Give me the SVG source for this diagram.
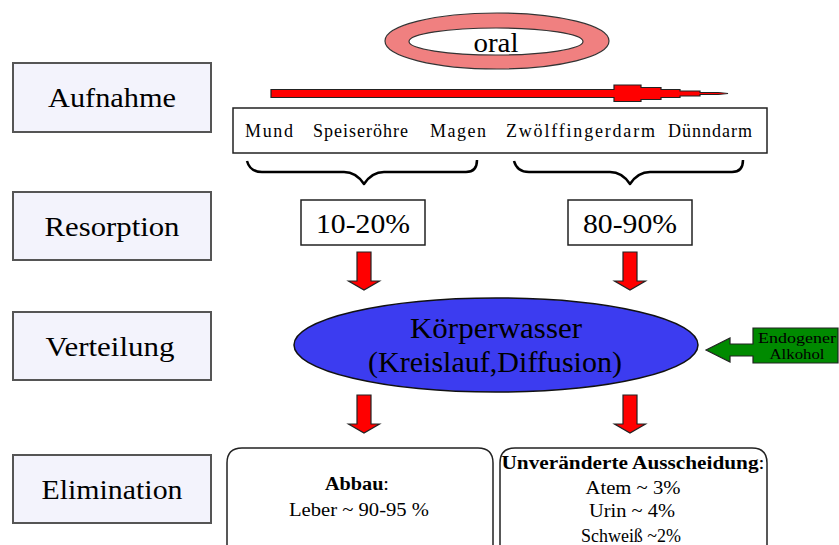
<svg xmlns="http://www.w3.org/2000/svg" width="839" height="545" viewBox="0 0 839 545" font-family="'Liberation Serif', 'DejaVu Serif', serif">
<defs>
<style>
text{font-family:'Liberation Serif','DejaVu Serif',serif;fill:#000}
.lab{font-size:28px;text-anchor:middle}
.stage{fill:#f3f3fc;stroke:#555;stroke-width:2}
.org{font-size:18px;text-anchor:middle}
.pct{font-size:28px;text-anchor:middle}
.box{fill:#fff;stroke:#222;stroke-width:1.5}
.darr{fill:#f00;stroke:#222;stroke-width:1.2}
.brace{fill:none;stroke:#000;stroke-width:2.5;stroke-linejoin:round}
.el{font-size:18px;text-anchor:middle}
</style>
</defs>
<rect width="839" height="545" fill="#fff"/>

<g id="stage-aufnahme"><rect class="stage" x="13" y="63" width="198" height="69"/><text class="lab" x="112" y="107" textLength="128" lengthAdjust="spacingAndGlyphs">Aufnahme</text></g>
<g id="stage-resorption"><rect class="stage" x="13" y="192" width="198" height="68"/><text class="lab" x="112" y="236" textLength="135" lengthAdjust="spacingAndGlyphs">Resorption</text></g>
<g id="stage-verteilung"><rect class="stage" x="13" y="312" width="198" height="68"/><text class="lab" x="110" y="356" textLength="129" lengthAdjust="spacingAndGlyphs">Verteilung</text></g>
<g id="stage-elimination"><rect class="stage" x="13" y="455" width="198" height="68"/><text class="lab" x="112" y="499" textLength="141" lengthAdjust="spacingAndGlyphs">Elimination</text></g>

<g id="oral">
<path d="M385,41 a112,28 0 1,0 224,0 a112,28 0 1,0 -224,0 Z M409,41.5 a87,13.5 0 1,0 174,0 a87,13.5 0 1,0 -174,0 Z" fill="#f08080" fill-rule="evenodd" stroke="#333" stroke-width="1.2"/>
<text x="496" y="52" font-size="28" text-anchor="middle" textLength="45" lengthAdjust="spacingAndGlyphs">oral</text>
</g>

<g id="organs">
<rect class="box" x="233" y="108" width="534" height="45"/>
<text class="org" x="269" y="137" textLength="48" lengthAdjust="spacing">Mund</text>
<text class="org" x="360.5" y="137" textLength="95" lengthAdjust="spacing">Speiseröhre</text>
<text class="org" x="458" y="137" textLength="56" lengthAdjust="spacing">Magen</text>
<text class="org" x="580.5" y="137" textLength="149" lengthAdjust="spacing">Zwölffingerdarm</text>
<text class="org" x="710" y="137" textLength="84" lengthAdjust="spacing">Dünndarm</text>
</g>

<g id="pct-10-20"><rect class="box" x="301" y="200" width="124" height="45"/><text class="pct" x="363" y="233" textLength="94" lengthAdjust="spacingAndGlyphs">10-20%</text></g>
<g id="pct-80-90"><rect class="box" x="568" y="200" width="124" height="45"/><text class="pct" x="630" y="233" textLength="94" lengthAdjust="spacingAndGlyphs">80-90%</text></g>

<g id="koerperwasser">
<ellipse cx="496" cy="345" rx="202" ry="47" fill="#3c3cf0" stroke="#111" stroke-width="1.5"/>
<text x="496" y="338" font-size="29" text-anchor="middle" textLength="172" lengthAdjust="spacingAndGlyphs">Körperwasser</text>
<text x="495" y="372" font-size="29" text-anchor="middle" textLength="254" lengthAdjust="spacingAndGlyphs">(Kreislauf,Diffusion)</text>
</g>

<g id="endogen">
<path d="M706,350 L730,338 L730,344 L753,344 L753,328 L838,328 L838,363 L753,363 L753,356 L730,356 L730,362 Z" fill="#008a00" stroke="#222" stroke-width="1.2"/>
<text x="797" y="343" font-size="15" text-anchor="middle" textLength="78" lengthAdjust="spacingAndGlyphs">Endogener</text>
<text x="797" y="359" font-size="15" text-anchor="middle" textLength="55" lengthAdjust="spacingAndGlyphs">Alkohol</text>
</g>

<g id="abbau">
<path d="M242,448 H478 Q493,448 493,463 V560 H227 V463 Q227,448 242,448 Z" fill="#fff" stroke="#222" stroke-width="1.5"/>
<text class="el" x="357" y="490" textLength="64" lengthAdjust="spacingAndGlyphs"><tspan font-weight="bold">Abbau</tspan>:</text>
<text class="el" x="359" y="516" textLength="140" lengthAdjust="spacingAndGlyphs">Leber ~ 90-95 %</text>
</g>
<g id="ausscheidung">
<path d="M515,448 H752 Q767,448 767,463 V560 H500 V463 Q500,448 515,448 Z" fill="#fff" stroke="#222" stroke-width="1.5"/>
<text class="el" x="633" y="469" textLength="263" lengthAdjust="spacingAndGlyphs"><tspan font-weight="bold">Unveränderte Ausscheidung</tspan>:</text>
<text class="el" x="633" y="494" textLength="95" lengthAdjust="spacingAndGlyphs">Atem ~ 3%</text>
<text class="el" x="632" y="517" textLength="86" lengthAdjust="spacingAndGlyphs">Urin ~ 4%</text>
<text class="el" x="631" y="542" textLength="100" lengthAdjust="spacingAndGlyphs">Schweiß ~2%</text>
</g>

<g id="connectors">
<path d="M271,89.5 H614 V85 H641 V87.5 H661 V89.5 H680 V91 H700 V92.5 H718 L728,93.5 L718,94.5 H700 V96 H680 V97.5 H661 V99.5 H641 V101.5 H614 V97.5 H271 Z" fill="#f00" stroke="#222" stroke-width="1.2"/>
<path class="brace" d="M247,161 Q250,172 262,172 H344 Q356,172 364,184 Q372,172 384,172 H466 Q477,172 477,160"/>
<path class="brace" d="M514,161 Q517,172 529,172 H610 Q622,172 630,184 Q638,172 650,172 H732 Q743,172 743,160"/>
<path class="darr" d="M357,252 H371 V281 H379.5 L364,290 L348.5,281 H357 Z"/>
<path class="darr" d="M623,252 H637 V281 H645.5 L630,290 L614.5,281 H623 Z"/>
<path class="darr" d="M357,395 H371 V424 H379.5 L364,433 L348.5,424 H357 Z"/>
<path class="darr" d="M623,395 H637 V424 H645.5 L630,433 L614.5,424 H623 Z"/>
</g>
</svg>
